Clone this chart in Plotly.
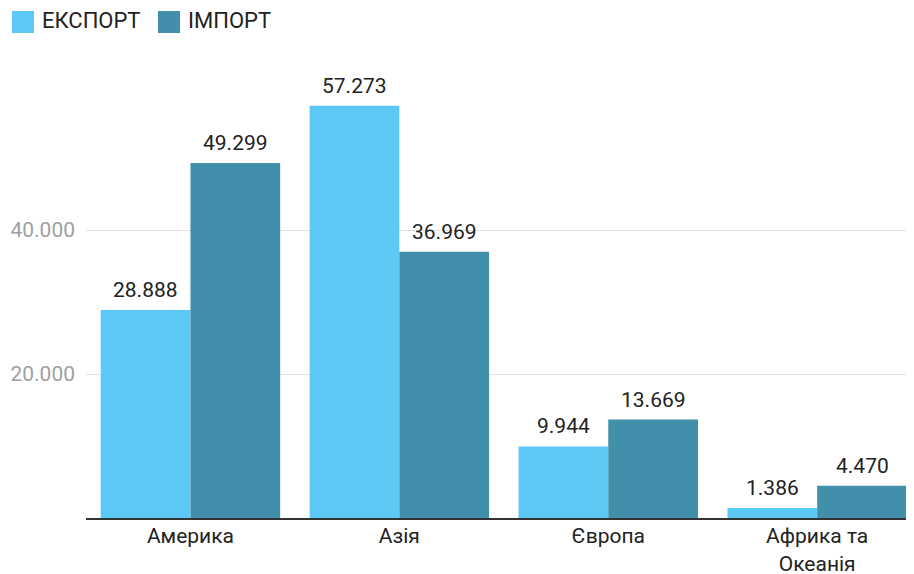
import plotly.graph_objects as go

categories = ["Америка", "Азія", "Європа", "Африка та<br>Океанія"]
export_vals = [28888, 57273, 9944, 1386]
import_vals = [49299, 36969, 13669, 4470]
series_names = ["ЕКСПОРТ", "ІМПОРТ"]
y_tickvals = [20000, 40000]
y_ticktext = ["20.000", "40.000"]

EXPORT_COLOR = "#5BC8F6"
IMPORT_COLOR = "#418FAB"
FONT = "Roboto"

# page body has an 8px margin, so the figure is offset by 8px
OFF = 8
W, H = 914 - OFF, 574 - OFF
ML, MR, MT, MB = 86 - OFF, 7, 92 - OFF, 56
PW, PH = W - ML - MR, H - MT - MB

BARGAP = 0.141


def fmt(v):
    return f"{v:,}".replace(",", ".")


def px2x(p):
    return (p - OFF - ML) / PW


def py2y(p):
    return (H - MB - (p - OFF)) / PH


fig = go.Figure()
for name, vals, col in [(series_names[0], export_vals, EXPORT_COLOR),
                        (series_names[1], import_vals, IMPORT_COLOR)]:
    fig.add_trace(go.Bar(
        x=categories, y=vals, name=name, marker_color=col,
        marker_line_width=0, showlegend=False,
    ))

XMIN, XMAX = -0.5, 3.43
cat_px = PW / (XMAX - XMIN)
bar_px = cat_px * (1 - BARGAP) / 2

shapes = []
annotations = []

# value labels above the bars
for sign, vals in [(-1, export_vals), (1, import_vals)]:
    for c, v in zip(categories, vals):
        annotations.append(dict(
            x=c, y=v, xref="x", yref="y", xshift=sign * bar_px / 2,
            yshift=6, yanchor="bottom", xanchor="center", showarrow=False,
            text=fmt(v), font=dict(family=FONT, size=21, color="#222222"),
        ))

# custom legend (large square swatches)
legend_items = [(12, 34, 42, series_names[0], EXPORT_COLOR),
                (158, 180, 188, series_names[1], IMPORT_COLOR)]
for x0, x1, tx, label, col in legend_items:
    shapes.append(dict(type="rect", xref="paper", yref="paper",
                       x0=px2x(x0), x1=px2x(x1), y0=py2y(33), y1=py2y(11),
                       fillcolor=col, line_width=0))
    annotations.append(dict(xref="paper", yref="paper", x=px2x(tx - 2), y=py2y(21),
                            xanchor="left", yanchor="middle", showarrow=False,
                            text=label,
                            font=dict(family=FONT, size=22, color="#222222")))

ymax = PH / 0.0072
fig.update_layout(
    width=W, height=H,
    margin=dict(l=ML, r=MR, t=MT, b=MB),
    paper_bgcolor="white", plot_bgcolor="white",
    barmode="group", bargap=BARGAP, bargroupgap=0,
    shapes=shapes, annotations=annotations,
    font=dict(family=FONT),
    xaxis=dict(
        range=[XMIN, XMAX], showline=True, linecolor="#333333", linewidth=2,
        showgrid=False, ticks="", fixedrange=True, automargin=False,
        tickfont=dict(family=FONT, size=21, color="#222222"),
        ticklabelstandoff=-2,
    ),
    yaxis=dict(
        range=[0, ymax], tickvals=y_tickvals, ticktext=y_ticktext,
        showgrid=True, gridcolor="#e4e4e4", gridwidth=1, automargin=False,
        zeroline=False, showline=False, ticks="",
        tickfont=dict(family=FONT, size=21, color="#a0a0a0"),
        ticklabelstandoff=10,
    ),
)

fig.write_html("out.html")
